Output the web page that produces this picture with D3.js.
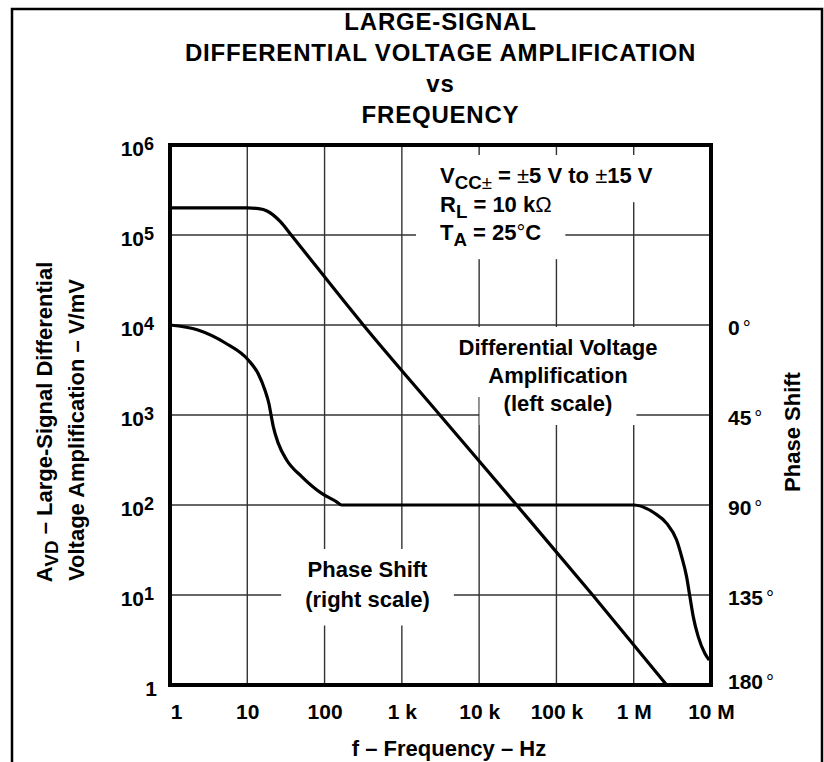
<!DOCTYPE html>
<html>
<head>
<meta charset="utf-8">
<script src="https://cdn.jsdelivr.net/npm/d3@7"></script>
<style>
  html, body { margin: 0; padding: 0; background: #fff; }
  svg { display: block; }
  text { font-family: "Liberation Sans", Arial, Helvetica, sans-serif; font-weight: bold; fill: #000; white-space: pre; }
</style>
</head>
<body>
<div id="chart"></div>
<script>
// axis ticks
const freqTicks = [1, 10, 100, 1e3, 1e4, 1e5, 1e6, 1e7];
const freqLabels = ["1", "10", "100", "1 k", "10 k", "100 k", "1 M", "10 M"];
const gainTicks = [1, 10, 100, 1e3, 1e4, 1e5, 1e6];
const gainExponents = [null, "1", "2", "3", "4", "5", "6"];
const phaseTicks = [0, 45, 90, 135, 180];

// differential voltage amplification (left scale), V/mV vs Hz
const gainFreq = [1, 10, 14, 18, 27, 37, 317, 3100, 30500, 294000, 2670000];
const gainValue = [2e5, 2e5, 1.96e5, 1.85e5, 1.4e5, 1e5, 1e4, 1e3, 1e2, 10, 1];

// phase shift (right scale), degrees vs Hz
const phaseFreq = [1, 2.3, 5.2, 10.3, 13.9, 16.9, 19.1, 20.3, 21.7, 25.2, 32.3, 50.6, 91.7, 143, 166,
  1e6, 1.85e6, 2.67e6, 3.59e6, 4.17e6, 4.83e6, 5.33e6, 5.89e6, 6.83e6, 8.34e6, 9.48e6];
const phaseDeg = [0, 2.5, 9, 17.5, 24.5, 32.5, 39.5, 45, 50.8, 59.2, 67.5, 75.8, 84.2, 88.4, 90,
  90, 94, 99.2, 107.5, 115.8, 125.8, 135.8, 145.8, 155.8, 164.2, 167.5];

// texts
const titleLines = ["LARGE-SIGNAL", "DIFFERENTIAL VOLTAGE AMPLIFICATION", "vs", "FREQUENCY"];
const conditionLines = [
  [["V"], ["CC", "sub"], ["±", "subsym"], [" = "], ["±", "sym"], ["5 V to "], ["±", "sym"], ["15 V"]],
  [["R"], ["L", "sub"], [" = 10 k"], ["Ω", "sym"]],
  [["T"], ["A", "sub"], [" = 25"], ["°", "sym"], ["C"]],
];
const gainNote = ["Differential Voltage", "Amplification", "(left scale)"];
const phaseNote = ["Phase Shift", "(right scale)"];
const yTitleLines = [
  [["A"], ["VD", "sub"], [" – Large-Signal Differential"]],
  [["Voltage Amplification – V/mV"]],
];
const y2Title = "Phase Shift";
const xTitle = "f – Frequency – Hz";

const W = 824, H = 762;
const plot = { left: 170, right: 711, top: 145, bottom: 685 };

const svg = d3.select("#chart").append("svg")
  .attr("width", W)
  .attr("height", H);

svg.append("rect").attr("width", W).attr("height", H).attr("fill", "#fff");

// outer page frame
svg.append("rect")
  .attr("x", 12).attr("y", 9)
  .attr("width", 810).attr("height", 800)
  .attr("fill", "none")
  .attr("stroke", "#000")
  .attr("stroke-width", 2.5);

const x = d3.scaleLog().domain([1, 1e7]).range([plot.left, plot.right]);
const y = d3.scaleLog().domain([1, 1e6]).range([plot.bottom, plot.top]);
const yPhase = d3.scaleLinear().domain([0, 180]).range([y(1e4), y(1)]);

const gridLayer = svg.append("g");
const gapLayer = svg.append("g");
const curveLayer = svg.append("g");
const frameLayer = svg.append("g");
const textLayer = svg.append("g");

// grid
gridLayer.selectAll(".vgrid")
  .data(freqTicks.slice(1, -1))
  .join("line")
  .attr("x1", (d) => x(d)).attr("x2", (d) => x(d))
  .attr("y1", plot.top).attr("y2", plot.bottom)
  .attr("stroke", "#333").attr("stroke-width", 1.4);

gridLayer.selectAll(".hgrid")
  .data(gainTicks.slice(1, -1))
  .join("line")
  .attr("x1", plot.left).attr("x2", plot.right)
  .attr("y1", (d) => y(d)).attr("y2", (d) => y(d))
  .attr("stroke", "#333").attr("stroke-width", 1.4);

// helper for text with subscripts / symbol glyphs
function richText(sel, segs, size) {
  let off = 0;
  segs.forEach(([t, kind]) => {
    const sub = kind === "sub" || kind === "subsym";
    const target = sub ? size * 0.28 : 0;
    sel.append("tspan")
      .attr("dy", target - off)
      .attr("font-size", sub ? size * 0.85 : size)
      .attr("font-weight", kind === "sym" || kind === "subsym" ? "normal" : null)
      .text(t);
    off = target;
  });
}

// white box behind in-plot text, so the grid breaks around it
function addGap(node, padX = 24, padTop = 8, padBottom = 9) {
  const b = node.getBBox();
  gapLayer.append("rect")
    .attr("x", b.x - padX)
    .attr("y", b.y - padTop)
    .attr("width", b.width + 2 * padX)
    .attr("height", b.height + padTop + padBottom)
    .attr("fill", "#fff");
}

// title
textLayer.selectAll(".title")
  .data(titleLines)
  .join("text")
  .attr("class", "title")
  .attr("x", (plot.left + plot.right) / 2)
  .attr("y", (d, i) => 30 + i * 31)
  .attr("text-anchor", "middle")
  .attr("font-size", 24)
  .attr("letter-spacing", 0.8)
  .text((d) => d);

// test conditions
conditionLines.forEach((segs, i) => {
  const t = textLayer.append("text")
    .attr("x", 440)
    .attr("y", 183 + i * 28.5)
    .attr("font-size", 22);
  richText(t, segs, 22);
  addGap(t.node());
});

// curve labels
gainNote.forEach((s, i) => {
  const t = textLayer.append("text")
    .attr("x", 558).attr("y", 355 + i * 28)
    .attr("text-anchor", "middle")
    .attr("font-size", 22)
    .text(s);
  addGap(t.node());
});

phaseNote.forEach((s, i) => {
  const t = textLayer.append("text")
    .attr("x", 367.5).attr("y", 577 + i * 29.5)
    .attr("text-anchor", "middle")
    .attr("font-size", 22)
    .text(s);
  addGap(t.node(), 24, 8, 14);
});

// curves
const gainLine = d3.line()
  .x((d) => x(d[0]))
  .y((d) => y(d[1]))
  .curve(d3.curveMonotoneX);

const phaseLine = d3.line()
  .x((d) => x(d[0]))
  .y((d) => yPhase(d[1]))
  .curve(d3.curveMonotoneX);

curveLayer.append("path")
  .datum(d3.zip(gainFreq, gainValue))
  .attr("d", gainLine)
  .attr("fill", "none")
  .attr("stroke", "#000")
  .attr("stroke-width", 3.2);

curveLayer.append("path")
  .datum(d3.zip(phaseFreq, phaseDeg))
  .attr("d", phaseLine)
  .attr("fill", "none")
  .attr("stroke", "#000")
  .attr("stroke-width", 3.2);

// plot frame
frameLayer.append("rect")
  .attr("x", plot.left).attr("y", plot.top)
  .attr("width", plot.right - plot.left)
  .attr("height", plot.bottom - plot.top)
  .attr("fill", "none")
  .attr("stroke", "#000")
  .attr("stroke-width", 4);

// bottom axis
const xAxis = textLayer.append("g")
  .attr("transform", `translate(0,${plot.bottom})`)
  .call(d3.axisBottom(x).tickValues(freqTicks)
    .tickFormat((d, i) => freqLabels[i]).tickSize(0).tickPadding(19))
  .attr("font-size", 21)
  .attr("font-family", null);
xAxis.select(".domain").remove();
xAxis.selectAll("text").filter((d) => d === 1).attr("dx", 6);

// left axis, powers of ten
const yAxis = textLayer.append("g")
  .attr("transform", `translate(${plot.left},0)`)
  .call(d3.axisLeft(y).tickValues(gainTicks).tickSize(0).tickPadding(16))
  .attr("font-size", 21)
  .attr("font-family", null);
yAxis.select(".domain").remove();
yAxis.selectAll("text")
  .attr("dy", "0.48em")
  .each(function (d) {
    const t = d3.select(this).text(null);
    const exp = gainExponents[gainTicks.indexOf(d)];
    if (exp == null) {
      t.attr("dx", 3).text("1");
    } else {
      t.append("tspan").text("10");
      t.append("tspan").attr("dy", -6).attr("font-size", 18).text(exp);
    }
  });

// right axis, phase
const y2Axis = textLayer.append("g")
  .attr("transform", `translate(${plot.right},0)`)
  .call(d3.axisRight(yPhase).tickValues(phaseTicks).tickSize(0).tickPadding(17))
  .attr("font-size", 21)
  .attr("font-family", null);
y2Axis.select(".domain").remove();
y2Axis.selectAll("text")
  .attr("dy", (d) => (d === 180 ? "0.15em" : "0.45em"))
  .each(function (d) {
    const t = d3.select(this).text(null);
    t.append("tspan").text(d);
    t.append("tspan").attr("dx", 3).attr("font-weight", "normal").attr("font-size", 20).text("°");
  });

// axis titles
yTitleLines.forEach((segs, i) => {
  const t = textLayer.append("text")
    .attr("transform", `translate(${52 + i * 32},${422 + i * 8}) rotate(-90)`)
    .attr("text-anchor", "middle")
    .attr("font-size", 22);
  richText(t, segs, 22);
});

textLayer.append("text")
  .attr("transform", `translate(800,432) rotate(-90)`)
  .attr("text-anchor", "middle")
  .attr("font-size", 22)
  .text(y2Title);

textLayer.append("text")
  .attr("x", 449).attr("y", 756)
  .attr("text-anchor", "middle")
  .attr("font-size", 22)
  .text(xTitle);
</script>
</body>
</html>
